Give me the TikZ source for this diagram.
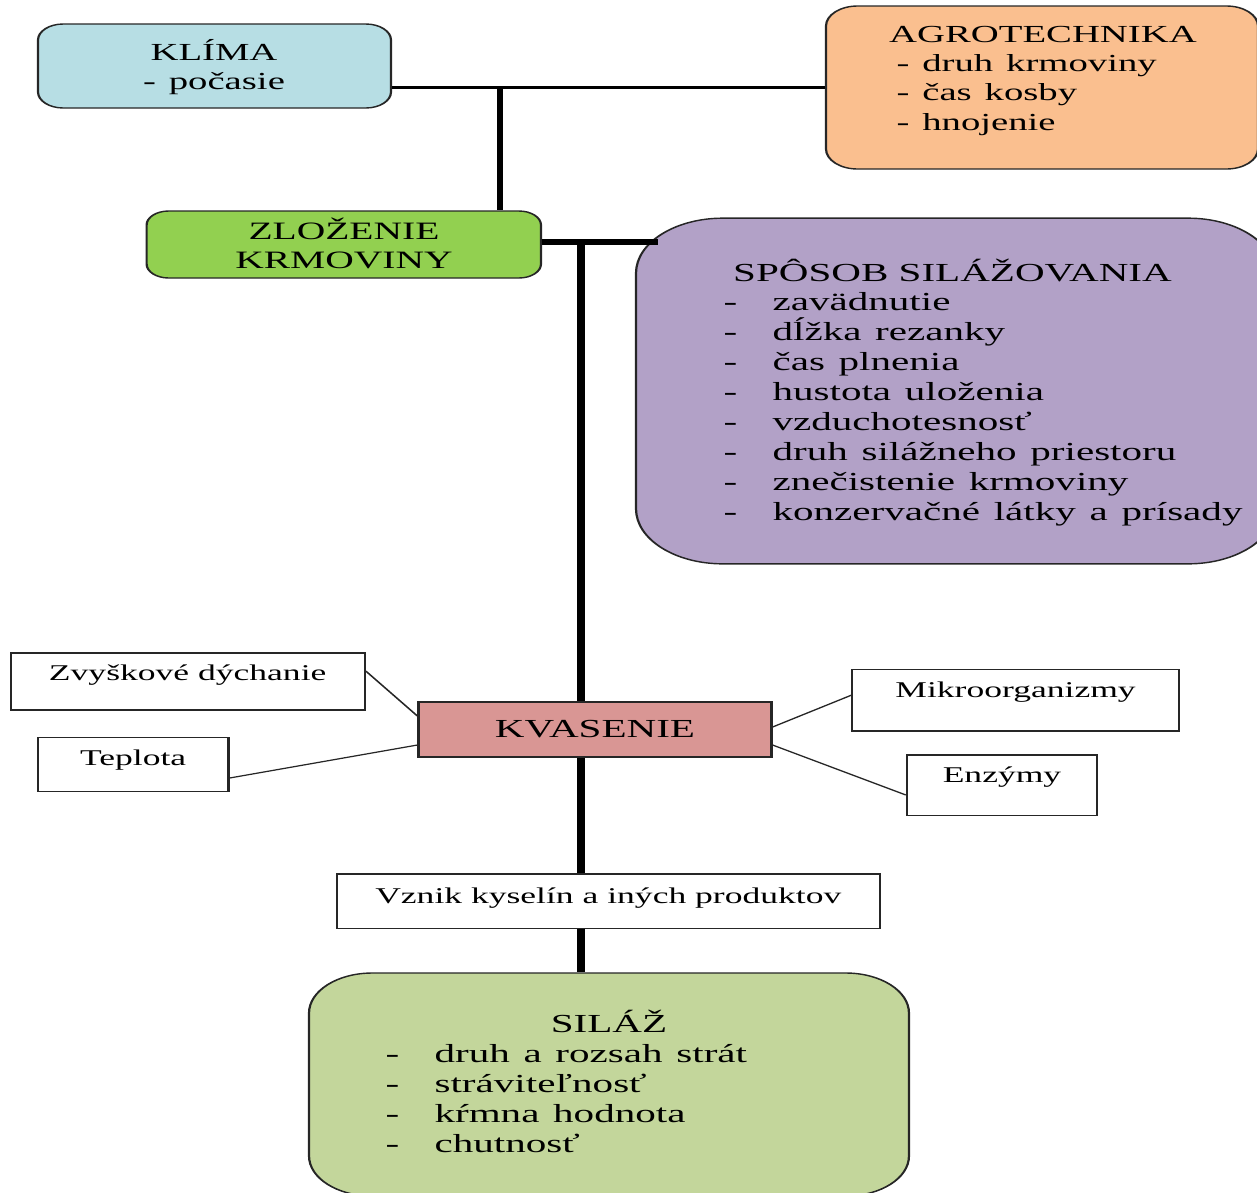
\documentclass[tikz,border=0pt]{standalone}
\usepackage{fontspec}
\setmainfont{Liberation Serif}
\usepackage{tikz}

\definecolor{klimablue}{RGB}{183,222,228}
\definecolor{agroorange}{RGB}{250,191,143}
\definecolor{zlozgreen}{RGB}{146,208,80}
\definecolor{sposobviolet}{RGB}{178,161,199}
\definecolor{kvasred}{RGB}{217,150,148}
\definecolor{silazgreen}{RGB}{195,214,155}

\tikzset{
  diagbox/.style={draw=black!85, line width=1.4pt, inner sep=0pt},
  roundbox/.style={diagbox, rounded corners=#1},
  bigtext/.style={font=\fontsize{24.5}{29.5}\selectfont},
  listtext/.style={font=\fontsize{26}{30}\selectfont},
  smalltext/.style={font=\fontsize{22.5}{27}\selectfont},
  thickline/.style={line width=#1, draw=black},
  thinline/.style={line width=1.2pt, draw=black!85}
}

\newcommand{\dashitem}[1]{\makebox[31pt][l]{-}#1}

\begin{document}
\begin{tikzpicture}[x=1pt,y=-1pt]

    \useasboundingbox (0,0) rectangle (1257,1192);

    \begin{scope}[transform canvas={xscale=1.58}, x=0.6329pt]

      \node[roundbox=16, fill=klimablue, minimum width=223.4pt, minimum height=84pt] (klima) at (214.5,66) {};
      \node[roundbox=20, fill=agroorange, minimum width=273.4pt, minimum height=163pt] (agro) at (1042,87.5) {};
      \node[roundbox=14, fill=zlozgreen, minimum width=249.6pt, minimum height=67pt] (zlozenie) at (343.8,244.5) {};
      \node[roundbox=55, fill=sposobviolet, minimum width=404.4pt, minimum height=345.7pt] (sposob) at (955.5,391) {};
      \node[diagbox, fill=kvasred, minimum width=223.4pt, minimum height=55.3pt, listtext] (kvasenie) at (595,729.5) {KVASENIE};

      \node[diagbox, minimum width=224pt, minimum height=57pt] (zvysok) at (187.7,681.5) {};
      \node[diagbox, minimum width=120.8pt, minimum height=54pt] (teplota) at (133.1,764.7) {};
      \node[diagbox, minimum width=206.6pt, minimum height=61.7pt] (mikro) at (1015.6,700.2) {};
      \node[diagbox, minimum width=120.3pt, minimum height=60.7pt] (enzymy) at (1002,785.4) {};
      \node[diagbox, minimum width=343.6pt, minimum height=54.3pt] (vznik) at (608.3,901.2) {};
      \node[roundbox=40, fill=silazgreen, minimum width=379.7pt, minimum height=223pt] (silaz) at (609,1084.5) {};



      \node[bigtext, anchor=base, text width=200pt, align=center] (klimatext) at (214,60) {KLÍMA\\- počasie};
      \node[bigtext, anchor=base] (agrotitle) at (1043,42.3) {AGROTECHNIKA};
      \node[bigtext, anchor=base west, text width=250pt, align=left] (agrolist) at (891,71) {- druh krmoviny\\- čas kosby\\- hnojenie};
      \node[bigtext, anchor=base, text width=240pt, align=center] (zloztext) at (344,239.3) {\fontsize{25}{29}\selectfont ZLOŽENIE\\KRMOVINY};

      \node[listtext, anchor=base] (sposobtitle) at (952.5,281.7) {SPÔSOB SILÁŽOVANIA};
      \node[listtext, anchor=base west, text width=380pt, align=left] (sposoblist) at (718,310) {\dashitem{zavädnutie}\\\dashitem{dĺžka rezanky}\\\dashitem{čas plnenia}\\\dashitem{hustota uloženia}\\\dashitem{vzduchotesnosť}\\\dashitem{druh silážneho priestoru}\\\dashitem{znečistenie krmoviny}\\\dashitem{konzervačné látky a prísady}};

      \node[smalltext, anchor=base] (zvysoktext) at ([yshift=-28.5pt]zvysok.north) {Zvyškové dýchanie};
      \node[smalltext, anchor=base] (teplotatext) at ([yshift=-28.5pt]teplota.north) {Teplota};
      \node[smalltext, anchor=base] (mikrotext) at ([yshift=-29pt]mikro.north) {Mikroorganizmy};
      \node[smalltext, anchor=base] (enzymytext) at ([yshift=-28pt]enzymy.north) {Enzýmy};
      \node[smalltext, anchor=base] (vzniktext) at ([yshift=-30pt]vznik.north) {Vznik kyselín a iných produktov};

      \node[listtext, anchor=base] (silaztitle) at (609,1032.3) {SILÁŽ};
      \node[listtext, anchor=base west, text width=300pt, align=left] (silazlist) at (380,1062.3) {\dashitem{druh a rozsah strát}\\\dashitem{stráviteľnosť}\\\dashitem{kŕmna hodnota}\\\dashitem{chutnosť}};



      \draw[thickline=3.8pt] (klima.east |- agro.west) -- (agro.west);
      \coordinate (topjoin) at (500,87.5);
      \draw[thickline=4.3pt] (topjoin) -- (topjoin |- zlozenie.north);

      \coordinate (sposobedge) at (658,242);
      \draw[thickline=6pt] (zlozenie.east |- sposobedge) -- (sposobedge);

      \coordinate (kvasjoin) at (581,242);
      \draw[thickline=4.8pt] (kvasjoin) -- (kvasjoin |- kvasenie.north);
      \draw[thickline=4.8pt] (kvasjoin |- kvasenie.south) -- (kvasjoin |- vznik.north);
      \draw[thickline=4.8pt] (kvasjoin |- vznik.south) -- (kvasjoin |- silaz.north);

      \draw[thinline] ([yshift=10.5pt]zvysok.east) -- ([yshift=13.5pt]kvasenie.west);
      \draw[thinline] ([yshift=-13.3pt]teplota.east) -- ([yshift=-15.5pt]kvasenie.west);
      \draw[thinline] ([yshift=5pt]mikro.west) -- ([yshift=2.5pt]kvasenie.east);
      \draw[thinline] ([yshift=-9.6pt]enzymy.west) -- ([yshift=-15.5pt]kvasenie.east);

    \end{scope}

  \end{tikzpicture}
\end{document}
